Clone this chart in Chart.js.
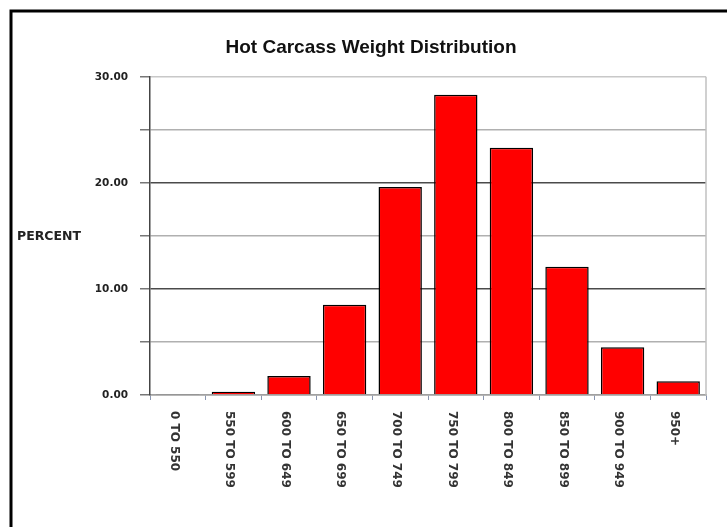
<!DOCTYPE html>
<html>
<head>
<meta charset="utf-8">
<script src="https://cdn.jsdelivr.net/npm/chart.js@4"></script>
<style>
  html, body { margin: 0; padding: 0; background: #fff; }
  #wrap { width: 727px; height: 527px; }
</style>
</head>
<body>
<div id="wrap"><canvas id="chart" width="727" height="527"></canvas></div>
<script>
// weight classes (lbs) and share of carcasses in each
const weightClasses = [
  "0 TO 550", "550 TO 599", "600 TO 649", "650 TO 699", "700 TO 749",
  "750 TO 799", "800 TO 849", "850 TO 899", "900 TO 949", "950+",
];
const percentValues = [0.05, 0.3, 1.8, 8.5, 19.6, 28.3, 23.3, 12.1, 4.5, 1.3];
const yTicks = [0, 10, 20, 30];

const smallFont = "DejaVu Sans";

// outer frame, plot border, side label and rotated category labels
const decorations = {
  id: "decorations",
  beforeDraw(chart) {
    const ctx = chart.ctx;
    ctx.save();
    ctx.fillStyle = "#fff";
    ctx.fillRect(0, 0, chart.width, chart.height);
    ctx.strokeStyle = "#000";
    ctx.lineWidth = 3;
    ctx.beginPath();
    ctx.moveTo(11, chart.height);
    ctx.lineTo(11, 11);
    ctx.lineTo(chart.width, 11);
    ctx.stroke();
    ctx.restore();
  },
  afterDraw(chart) {
    const ctx = chart.ctx;
    const area = chart.chartArea;
    const xScale = chart.scales.x;
    ctx.save();
    // right edge of plot
    ctx.strokeStyle = "#c0c0c0";
    ctx.lineWidth = 1.5;
    ctx.beginPath();
    ctx.moveTo(area.right, area.top);
    ctx.lineTo(area.right, area.bottom);
    ctx.stroke();

    ctx.fillStyle = "#222";
    ctx.font = "bold 12.5px '" + smallFont + "'";
    ctx.textAlign = "left";
    ctx.textBaseline = "middle";
    ctx.fillText("PERCENT", 17, 237);

    ctx.fillStyle = "#333";
    ctx.font = "bold 12px '" + smallFont + "'";
    weightClasses.forEach((label, i) => {
      const x = xScale.getPixelForValue(i) - 4;
      ctx.save();
      ctx.translate(x, area.bottom + 16);
      ctx.rotate(Math.PI / 2);
      ctx.fillText(label, 0, 0);
      ctx.restore();
    });
    ctx.restore();
  },
};

function gridColor(ctx) {
  const v = ctx.tick ? ctx.tick.value : null;
  if (v === 30) return "#c8c8c8";
  if (v === 0) return "#a0a0a0";
  if (yTicks.includes(v)) return "#4a4a4a";
  return "#b0b0b0";
}

new Chart(document.getElementById("chart"), {
  type: "bar",
  data: {
    labels: weightClasses,
    datasets: [
      {
        data: percentValues,
        backgroundColor: "#ff0000",
        borderColor: "#000",
        borderWidth: 1.5,
        barPercentage: 0.78,
        categoryPercentage: 1,
      },
    ],
  },
  options: {
    responsive: false,
    animation: false,
    layout: { padding: { top: 12, left: 36, right: 21, bottom: 0 } },
    plugins: {
      legend: { display: false },
      tooltip: { enabled: false },
      title: {
        display: true,
        text: "Hot Carcass Weight Distribution",
        color: "#111",
        font: { family: "Liberation Sans", size: 19, weight: "bold" },
        padding: { top: 24, bottom: 18 },
      },
    },
    scales: {
      x: {
        offset: true,
        afterFit(scale) { scale.height = 132; },
        ticks: { display: false },
        grid: { drawOnChartArea: false, tickLength: 5, color: "#8a96b0" },
        border: { color: "#a0a0a0", width: 1.5 },
      },
      y: {
        min: 0,
        max: 30,
        afterFit(scale) { scale.width = 114; },
        ticks: {
          stepSize: 5,
          padding: 12,
          color: "#222",
          font: { family: smallFont, size: 10.5, weight: "bold" },
          callback: (v) => (yTicks.includes(v) ? v.toFixed(2) : ""),
        },
        grid: { color: gridColor, tickColor: "#777", tickLength: 10, lineWidth: 1.5 },
        border: { color: "#444", width: 1.5 },
      },
    },
  },
  plugins: [decorations],
});
</script>
</body>
</html>
